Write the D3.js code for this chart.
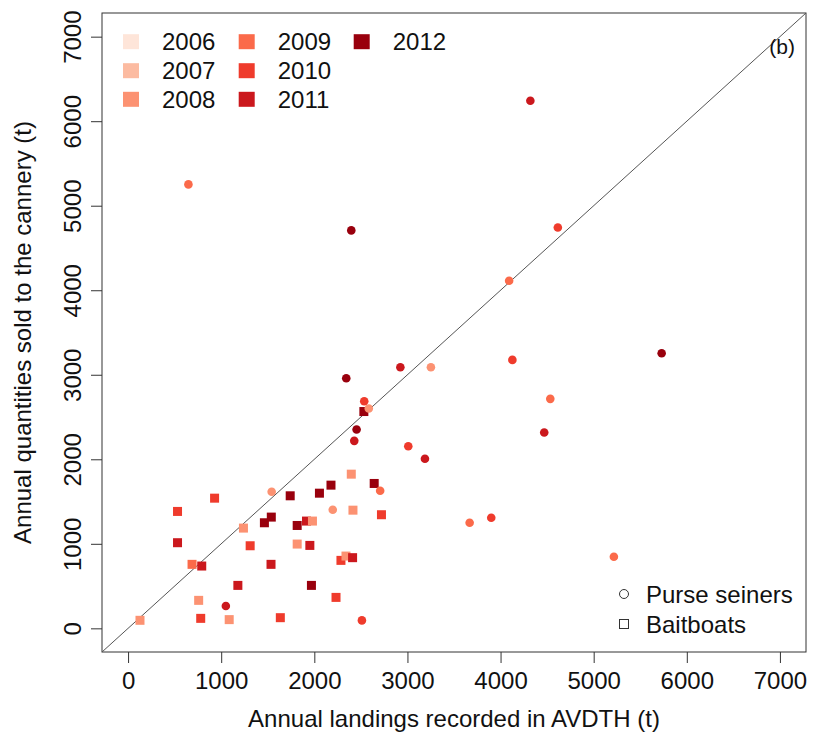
<!DOCTYPE html>
<html>
<head>
<meta charset="utf-8">
<script src="https://cdn.jsdelivr.net/npm/d3@7"></script>
<style>
  body { margin: 0; background: #fff; }
  svg text { font-family: "Liberation Sans", Arial, sans-serif; fill: #111; }
</style>
</head>
<body>
<svg id="chart" width="813" height="744"></svg>
<script>
// ---- data ----
const years = [2006, 2007, 2008, 2009, 2010, 2011, 2012];
const yearColors = ["#FEE5D9", "#FCBBA1", "#FC9272", "#FB6A4A", "#EF3B2C", "#CB181D", "#99000D"];
const xTicks = [0, 1000, 2000, 3000, 4000, 5000, 6000, 7000];
const yTicks = [0, 1000, 2000, 3000, 4000, 5000, 6000, 7000];

// Purse seiners (circles)
const psX    = [648, 2397, 2924, 3252, 2343, 4320, 4615, 4092, 4127, 5730, 2536, 2454, 2429, 3009, 3188, 4534, 4469, 2707, 3668, 3900, 5217, 2511, 1542, 2198, 1050, 2585];
const psY    = [5252, 4708, 3089, 3089, 2959, 6241, 4743, 4113, 3176, 3254, 2687, 2352, 2218, 2155, 2006, 2715, 2317, 1628, 1249, 1308, 847, 94, 1616, 1403, 264, 2600];
const psYear = [2009, 2012, 2011, 2008, 2012, 2011, 2010, 2009, 2010, 2012, 2010, 2012, 2011, 2010, 2011, 2009, 2011, 2009, 2009, 2010, 2009, 2010, 2008, 2008, 2011, 2008];

// Baitboats (squares)
const bbX    = [531, 929, 531, 687, 791, 128, 758, 780, 1086, 1179, 1239, 1311, 1464, 1538, 1535, 1635, 1741, 1816, 1816, 1916, 1980, 1952, 1969, 2055, 2179, 2233, 2286, 2340, 2411, 2397, 2415, 2643, 2721, 2532];
const bbY    = [1383, 1540, 1013, 757, 737, 95, 331, 118, 103, 508, 1186, 977, 1249, 1316, 757, 126, 1568, 997, 1217, 1269, 1269, 981, 508, 1599, 1694, 366, 804, 855, 836, 1824, 1398, 1714, 1344, 2565];
const bbYear = [2010, 2010, 2011, 2009, 2011, 2008, 2008, 2010, 2008, 2011, 2008, 2010, 2012, 2012, 2011, 2010, 2012, 2008, 2012, 2011, 2008, 2011, 2012, 2012, 2012, 2010, 2010, 2008, 2011, 2008, 2008, 2012, 2010, 2012];

const shapeLabels = ["Purse seiners", "Baitboats"];
const xTitle = "Annual landings recorded in AVDTH (t)";
const yTitle = "Annual quantities sold to the cannery (t)";
const panelLabel = "(b)";

// ---- layout ----
const svg = d3.select("#chart");
const pLeft = 102, pRight = 806, pTop = 13, pBottom = 652;
const x = d3.scaleLinear().domain([-280, 7280]).range([pLeft, pRight]);
const y = d3.scaleLinear().domain([-280, 7280]).range([pBottom, pTop]);
const color = d3.scaleOrdinal().domain(years).range(yearColors);

// box
svg.append("rect").attr("x", pLeft).attr("y", pTop)
  .attr("width", pRight - pLeft).attr("height", pBottom - pTop)
  .attr("fill", "none").attr("stroke", "#333").attr("stroke-width", 1);

// axes
const xAxis = svg.append("g").attr("transform", `translate(0,${pBottom})`)
  .call(d3.axisBottom(x).tickValues(xTicks).tickSize(11).tickPadding(9).tickFormat(d3.format("d")));
const yAxis = svg.append("g").attr("transform", `translate(${pLeft},0)`)
  .call(d3.axisLeft(y).tickValues(yTicks).tickSize(11).tickPadding(9).tickFormat(d3.format("d")));
[xAxis, yAxis].forEach(g => {
  g.select(".domain").remove();
  g.selectAll(".tick line").attr("stroke", "#333");
  g.selectAll(".tick text").style("font-size", "24px").attr("fill", "#111")
    .style("font-family", '"Liberation Sans", Arial, sans-serif');
});
yAxis.selectAll(".tick text")
  .attr("text-anchor", "middle").attr("dy", null).attr("x", null)
  .attr("transform", "translate(-30,0) rotate(-90)")
  .attr("dominant-baseline", "central");

// identity line
svg.append("line")
  .attr("x1", x(-280)).attr("y1", y(-280)).attr("x2", x(7280)).attr("y2", y(7280))
  .attr("stroke", "#555").attr("stroke-width", 1);

const ps = psX.map((v, i) => ({ x: v, y: psY[i], year: psYear[i] }));
const bb = bbX.map((v, i) => ({ x: v, y: bbY[i], year: bbYear[i] }));

svg.append("g").selectAll("rect").data(bb).join("rect")
  .attr("x", d => x(d.x) - 4.5).attr("y", d => y(d.y) - 4.5)
  .attr("width", 9).attr("height", 9)
  .attr("fill", d => color(d.year));

svg.append("g").selectAll("circle").data(ps).join("circle")
  .attr("cx", d => x(d.x)).attr("cy", d => y(d.y)).attr("r", 4.3)
  .attr("fill", d => color(d.year));

// year legend
const colX = [131, 246.7, 361.7], rowY = [41.7, 70.7, 99.3];
const leg = svg.append("g");
years.forEach((yr, i) => {
  const cx = colX[Math.floor(i / 3)], cy = rowY[i % 3];
  leg.append("rect").attr("x", cx - 8).attr("y", cy - 7.5).attr("width", 16).attr("height", 15)
    .attr("fill", color(yr));
  leg.append("text").attr("x", cx + 31).attr("y", cy).attr("dominant-baseline", "central")
    .style("font-size", "24px").text(yr);
});

// shape legend
const sl = svg.append("g");
sl.append("circle").attr("cx", 624).attr("cy", 594).attr("r", 4.5)
  .attr("fill", "none").attr("stroke", "#333").attr("stroke-width", 1);
sl.append("rect").attr("x", 619.5).attr("y", 619.5).attr("width", 9).attr("height", 9)
  .attr("fill", "none").attr("stroke", "#333").attr("stroke-width", 1);
shapeLabels.forEach((t, i) => {
  sl.append("text").attr("x", 646).attr("y", 594 + i * 30).attr("dominant-baseline", "central")
    .style("font-size", "24px").text(t);
});

// panel label
svg.append("text").attr("x", 795).attr("y", 46).attr("text-anchor", "end")
  .attr("dominant-baseline", "central").style("font-size", "21px").text(panelLabel);

// axis titles
svg.append("text").attr("x", (pLeft + pRight) / 2).attr("y", 718).attr("text-anchor", "middle")
  .attr("dominant-baseline", "central").style("font-size", "24px").text(xTitle);
svg.append("text").attr("transform", `translate(22,${(pTop + pBottom) / 2}) rotate(-90)`)
  .attr("text-anchor", "middle").attr("dominant-baseline", "central")
  .style("font-size", "24px").text(yTitle);
</script>
</body>
</html>
